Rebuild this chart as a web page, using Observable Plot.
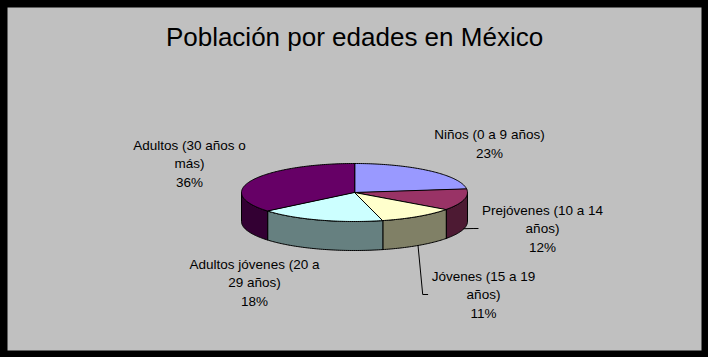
<!DOCTYPE html>
<html><head><meta charset="utf-8">
<script src="https://cdn.jsdelivr.net/npm/d3@7"></script>
<script src="https://cdn.jsdelivr.net/npm/@observablehq/plot@0.6"></script>
<style>html,body{margin:0;padding:0;background:#fff}</style>
</head><body><div id="chart"></div>
<script>
// ---- data ----
const title = "Población por edades en México";
const categories = ["Niños (0 a 9 años)", "Prejóvenes (10 a 14 años)", "Jóvenes (15 a 19 años)", "Adultos jóvenes (20 a 29 años)", "Adultos (30 años o más)"];
const values = [23, 12, 11, 18, 36];
const labelLines = [["Niños (0 a 9 años)"], ["Prejóvenes (10 a 14", "años)"], ["Jóvenes (15 a 19", "años)"], ["Adultos jóvenes (20 a", "29 años)"], ["Adultos (30 años o", "más)"]];
const topColors = ["#9999FF", "#993366", "#FFFFCC", "#CCFFFF", "#660066"];
const sideColors = ["#4D4D80", "#4D1A33", "#808066", "#668080", "#330033"];

// ---- layout ----
const W = 708, H = 357;
const cx = 354, cy = 192, rx = 113, ry = 29, depth = 29;
const labelOffsets = [[135, -50], [188, 35], [129, 101], [-100, 89], [-165, -30]];
const hasLeader = [false, true, true, false, false];
const FONT = "Liberation Sans, Arial, Helvetica, sans-serif";
const labelSize = 13.5;

const total = d3.sum(values);
const px = a => cx + rx * Math.sin(a);
const py = a => cy - ry * Math.cos(a);
const arcPts = (a0, a1, dy = 0) => {
  const n = Math.max(2, Math.ceil((a1 - a0) / (Math.PI / 180)));
  return d3.range(n + 1).map(i => { const a = a0 + (a1 - a0) * i / n; return [px(a), py(a) + dy]; });
};

let cum = 0;
const slices = values.map((v, i) => {
  const a0 = 2 * Math.PI * cum / total; cum += v;
  const a1 = 2 * Math.PI * cum / total;
  return {i, a0, a1, mid: (a0 + a1) / 2};
});

const tops = [], sides = [];
for (const s of slices) {
  tops.push({id: s.i, x: cx, y: cy, fill: topColors[s.i]});
  for (const [x, y] of arcPts(s.a0, s.a1)) tops.push({id: s.i, x, y, fill: topColors[s.i]});
  const b0 = Math.max(s.a0, Math.PI / 2), b1 = Math.min(s.a1, 3 * Math.PI / 2);
  if (b0 < b1) {
    const upper = arcPts(b0, b1), lower = arcPts(b0, b1, depth).reverse();
    for (const [x, y] of upper.concat(lower)) sides.push({id: s.i, x, y, fill: sideColors[s.i]});
  }
}

const ctx = document.createElement("canvas").getContext("2d");
ctx.font = `${labelSize}px ${FONT}`;
const labels = slices.map(s => ({
  x: cx + labelOffsets[s.i][0], y: cy + labelOffsets[s.i][1],
  text: labelLines[s.i].concat([values[s.i] + "%"]).join("\n")
}));
const leaders = [];
for (const s of slices) {
  if (!hasLeader[s.i]) continue;
  const L = labels[s.i];
  const left = L.x - ctx.measureText(labelLines[s.i][0]).width / 2;
  leaders.push({id: s.i, x: px(s.mid), y: py(s.mid) + depth});
  leaders.push({id: s.i, x: left - 9, y: L.y + 1});
  leaders.push({id: s.i, x: left - 4, y: L.y + 1});
}

const chart = Plot.plot({
  width: W, height: H, margin: 0,
  x: {domain: [0, W], range: [0, W], axis: null},
  y: {domain: [0, H], range: [0, H], axis: null},
  color: {type: "identity"},
  style: {background: "#c0c0c0", fontFamily: FONT},
  marks: [
    Plot.line(sides, {x: "x", y: "y", z: "id", fill: "fill", stroke: "black", strokeWidth: 1, curve: "linear-closed"}),
    Plot.line(tops, {x: "x", y: "y", z: "id", fill: "fill", stroke: "black", strokeWidth: 1, curve: "linear-closed"}),
    Plot.line(leaders, {x: "x", y: "y", z: "id", stroke: "black", strokeWidth: 1}),
    Plot.text(labels, {x: "x", y: "y", text: "text", fontSize: labelSize, lineHeight: 1.38, fill: "black"}),
    Plot.text([title], {x: () => cx, y: () => 37, text: d => d, fontSize: 26, fill: "black"}),
    Plot.frame({stroke: "black", strokeWidth: 14})
  ]
});
document.getElementById("chart").append(chart);
</script></body></html>
